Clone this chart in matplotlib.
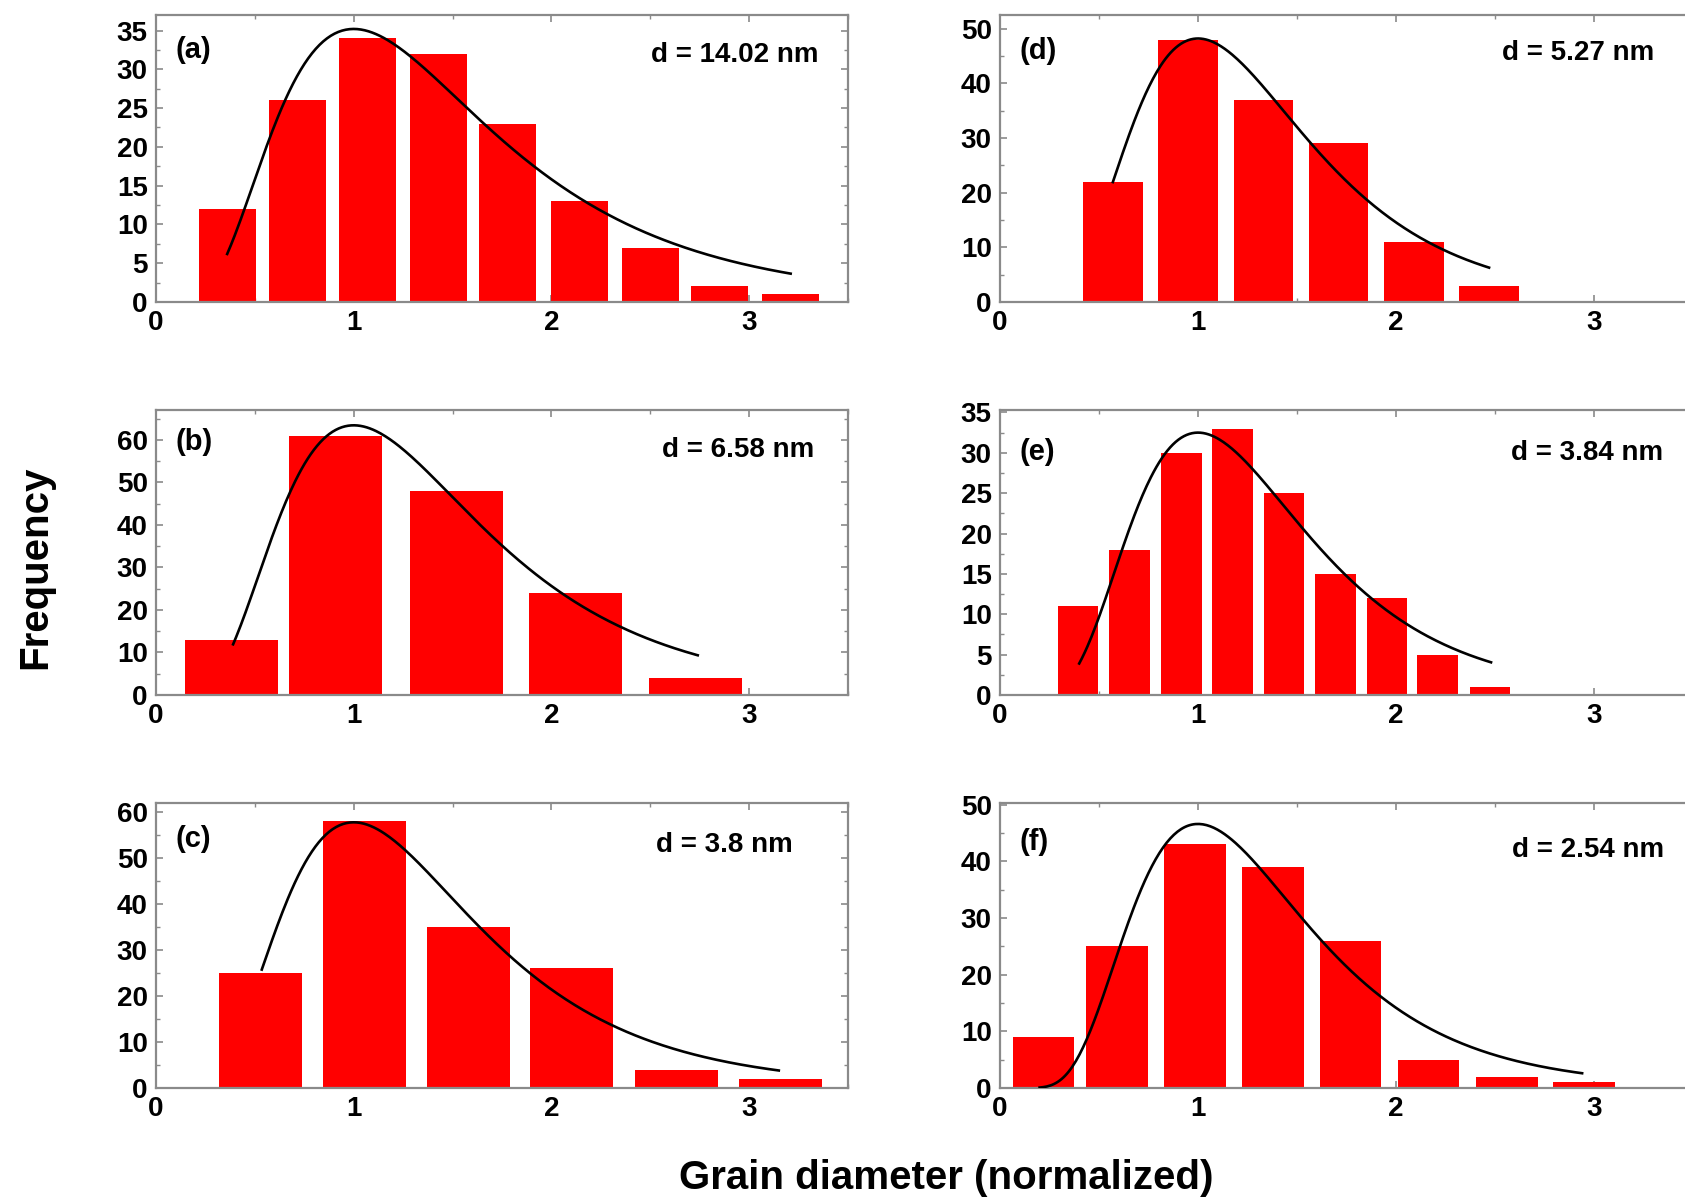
import numpy as np
import matplotlib
matplotlib.use('Agg')
import matplotlib.pyplot as plt
from matplotlib.ticker import MultipleLocator, AutoMinorLocator

plt.rcParams['font.family'] = ['Liberation Sans', 'DejaVu Sans']
plt.rcParams['font.weight'] = 'bold'

# panel labels and mean sizes
labels = ['(a)', '(b)', '(c)', '(d)', '(e)', '(f)']
sizes = ['d = 14.02 nm', 'd = 6.58 nm', 'd = 3.8 nm', 'd = 5.27 nm', 'd = 3.84 nm', 'd = 2.54 nm']

# histogram bins (normalized diameter) and counts
centers_a = [0.36, 0.715, 1.07, 1.43, 1.78, 2.14, 2.50, 2.85, 3.21]
counts_a = [12, 26, 34, 32, 23, 13, 7, 2, 1]
centers_b = [0.38, 0.91, 1.52, 2.12, 2.73]
counts_b = [13, 61, 48, 24, 4]
centers_c = [0.53, 1.056, 1.58, 2.10, 2.634, 3.16]
counts_c = [25, 58, 35, 26, 4, 2]
centers_d = [0.57, 0.95, 1.33, 1.71, 2.09, 2.47]
counts_d = [22, 48, 37, 29, 11, 3]
centers_e = [0.394, 0.653, 0.916, 1.175, 1.434, 1.695, 1.955, 2.21, 2.475]
counts_e = [11, 18, 30, 33, 25, 15, 12, 5, 1]
centers_f = [0.22, 0.59, 0.985, 1.378, 1.77, 2.165, 2.56, 2.95]
counts_f = [9, 25, 43, 39, 26, 5, 2, 1]
bin_widths = [0.288, 0.47, 0.42, 0.30, 0.205, 0.31]

# log-normal fit curves: peak height, sigma, x range
fit_peak = [35.2, 63.4, 57.8, 48.2, 32.5, 46.6]
fit_sigma = [0.548, 0.515, 0.492, 0.448, 0.445, 0.449]
fit_start = [0.36, 0.39, 0.535, 0.57, 0.40, 0.20]
fit_end = [3.21, 2.74, 3.15, 2.47, 2.48, 2.94]

# y axes
ytop = [37, 67, 62, 52.5, 35.3, 50.3]
ystep = [5, 10, 10, 10, 5, 10]

centers = [centers_a, centers_b, centers_c, centers_d, centers_e, centers_f]
counts = [counts_a, counts_b, counts_c, counts_d, counts_e, counts_f]

# layout (pixels of a 1685x1203 figure)
W, H = 1685, 1203
cols = [(156, 692), (1000, 693)]
rows = [(15, 302), (410, 695), (803, 1088)]
lab_y = [0.878, 0.888, 0.874, 0.875, 0.853, 0.863]
size_x = [0.957, 0.951, 0.92, 0.944, 0.957, 0.958]
size_y = [0.861, 0.86, 0.853, 0.868, 0.849, 0.835]

fig = plt.figure(figsize=(W / 100, H / 100), dpi=100)
spine_col = '#8a8a8a'

for i in range(6):
    c = i // 3
    r = i % 3
    x0, w = cols[c]
    top, bot = rows[r]
    ax = fig.add_axes([x0 / W, 1 - bot / H, w / W, (bot - top) / H])
    ax.bar(centers[i], counts[i], width=bin_widths[i], color='#ff0000', edgecolor='none', zorder=2)
    xx = np.linspace(fit_start[i], fit_end[i], 300)
    yy = fit_peak[i] * np.exp(-np.log(xx) ** 2 / (2 * fit_sigma[i] ** 2))
    ax.plot(xx, yy, color='black', lw=1.9, zorder=3)
    ax.set_xlim(0, 3.5)
    ax.set_ylim(0, ytop[i])
    ax.xaxis.set_major_locator(MultipleLocator(1))
    ax.xaxis.set_minor_locator(MultipleLocator(0.5))
    ax.yaxis.set_major_locator(MultipleLocator(ystep[i]))
    ax.yaxis.set_minor_locator(AutoMinorLocator(2))
    for s in ax.spines.values():
        s.set_color(spine_col)
        s.set_linewidth(1.6)
    ax.tick_params(which='both', direction='in', top=True, right=True, color=spine_col,
                   labelsize=20, pad=6)
    ax.tick_params(which='major', length=5, width=1.2)
    ax.tick_params(which='minor', length=3, width=1.0)
    for t in ax.get_xticklabels() + ax.get_yticklabels():
        t.set_fontweight('bold')
    ax.text(0.028, lab_y[i], labels[i], transform=ax.transAxes, fontsize=21,
            fontweight='bold', ha='left', va='center')
    ax.text(size_x[i], size_y[i], sizes[i], transform=ax.transAxes, fontsize=20,
            fontweight='bold', ha='right', va='center')

fig.text(35 / W, 1 - 567 / H, 'Frequency', rotation=90, fontsize=29,
         fontweight='bold', ha='center', va='center')
fig.text(946 / W, 1 - 1178 / H, 'Grain diameter (normalized)', fontsize=29,
         fontweight='bold', ha='center', va='center')

fig.savefig('out.png', dpi=100)
